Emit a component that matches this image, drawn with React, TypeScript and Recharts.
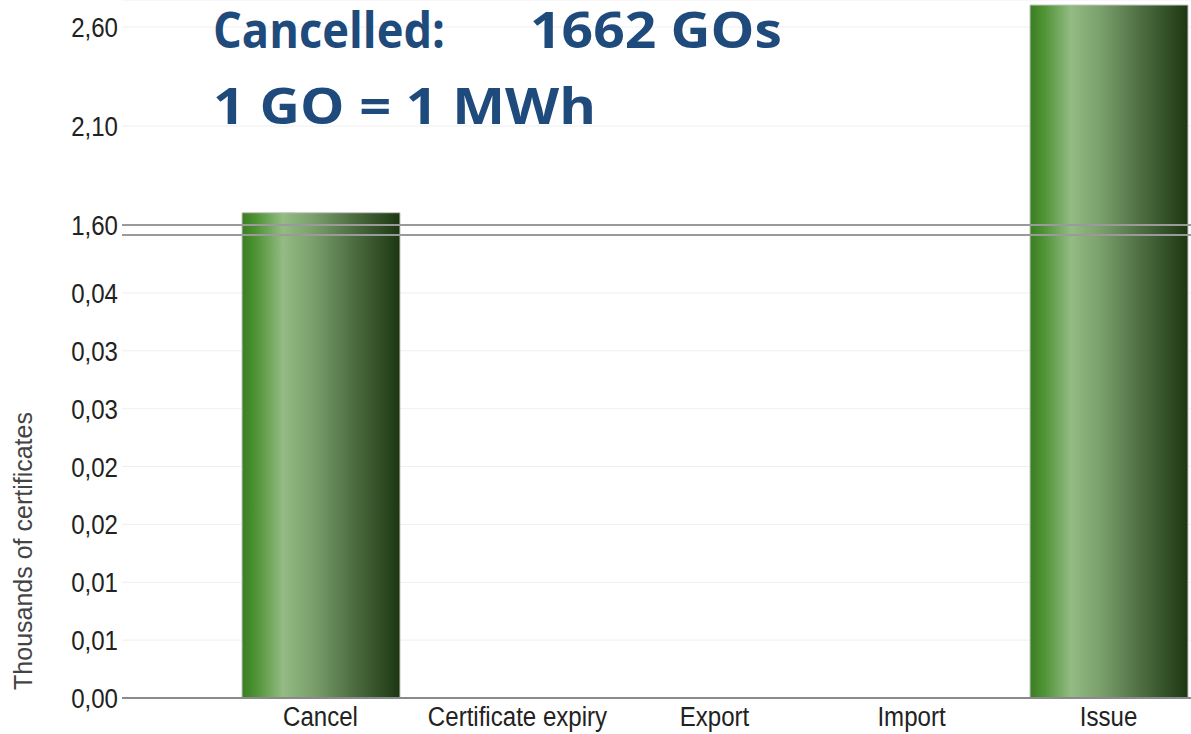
import React from "react";
import { BarChart, Bar, XAxis, YAxis, CartesianGrid, ReferenceLine } from "recharts";

const categories = ["Cancel", "Certificate expiry", "Export", "Import", "Issue"];
const thousandsOfCertificates = [1.662, 0, 0, 0, 2.711];

const lowerTicks = [0, 0.0055, 0.011, 0.0165, 0.022, 0.0275, 0.033, 0.0385];
const upperTicks = [1.6, 2.1, 2.6];
const tickLabels = ["0,00", "0,01", "0,01", "0,02", "0,02", "0,03", "0,03", "0,04", "1,60", "2,10", "2,60"];
const breakLow = 0.044;
const breakHigh = 1.6;

// broken axis: lower part is stretched, upper part starts at the break
const LOWER_SCALE = 10520;
const UPPER_SCALE = 198;
const UPPER_BASE = 473;
const toAxis = (v: number) => (v < 1 ? v * LOWER_SCALE : UPPER_BASE + (v - breakHigh) * UPPER_SCALE);

const data = categories.map((name, i) => ({ name, value: toAxis(thousandsOfCertificates[i]) }));
const tickValues = [...lowerTicks, ...upperTicks].map(toAxis);

const TICK_FONT = "'Liberation Sans', Arial, sans-serif";
const SQUEEZE = 0.86;

function XTick({ x, y, payload }: any) {
  return (
    <g transform={`translate(${x},${y})`}>
      <text transform={`scale(${SQUEEZE},1)`} textAnchor="middle" dy="0.71em" fontSize={28} fill="#222" fontFamily={TICK_FONT}>
        {payload.value}
      </text>
    </g>
  );
}

function YTick({ x, y, index }: any) {
  return (
    <g transform={`translate(${x},${y})`}>
      <text transform={`scale(${SQUEEZE},1)`} textAnchor="end" dy="0.355em" fontSize={28} fill="#222" fontFamily={TICK_FONT}>
        {tickLabels[index]}
      </text>
    </g>
  );
}

const titleText = { fontFamily: "'Open Sans', sans-serif", fontWeight: 700, fontSize: 50, fill: "#1f4a7c", lengthAdjust: "spacingAndGlyphs" as const };

export default function App() {
  return (
    <div style={{ position: "absolute", left: 0, top: 0, width: 1191, height: 734, overflow: "hidden", background: "#fff" }}>
      <BarChart width={1207} height={734} data={data} margin={{ top: 0, right: 0, left: 0, bottom: 0 }}>
        <defs>
          <linearGradient id="barGreen" x1="0" y1="0" x2="1" y2="0">
            <stop offset="0%" stopColor="#3a7e22" />
            <stop offset="8%" stopColor="#4c9132" />
            <stop offset="26%" stopColor="#93bb83" />
            <stop offset="45%" stopColor="#7a9f6b" />
            <stop offset="70%" stopColor="#4e6e42" />
            <stop offset="90%" stopColor="#2d4a22" />
            <stop offset="100%" stopColor="#1c3612" />
          </linearGradient>
        </defs>
        <CartesianGrid vertical={false} stroke="#efefef" />
        <XAxis
          dataKey="name"
          padding={{ left: 100, right: 0 }}
          height={36}
          axisLine={{ stroke: "#8a8a8a", strokeWidth: 2 }}
          tickLine={false}
          tick={<XTick />}
          interval={0}
        />
        <YAxis
          type="number"
          domain={[0, 698]}
          ticks={tickValues}
          interval={0}
          width={122}
          axisLine={false}
          tickLine={false}
          tickSize={4}
          tickMargin={0}
          tick={<YTick />}
          label={{
            content: () => (
              <text
                x={32}
                y={551}
                transform="rotate(-90 32 551)"
                textAnchor="middle"
                fontSize={25}
                fill="#444"
                fontFamily={TICK_FONT}
              >
                Thousands of certificates
              </text>
            ),
          }}
        />
        <Bar dataKey="value" barSize={158} fill="url(#barGreen)" stroke="#c4c4c4" strokeWidth={1} isAnimationActive={false} />
        <ReferenceLine y={toAxis(breakHigh)} stroke="#9a9a9a" strokeWidth={2} />
        <ReferenceLine y={toAxis(breakLow)} stroke="#9a9a9a" strokeWidth={2} />
      </BarChart>
      <svg width={1191} height={140} style={{ position: "absolute", left: 0, top: 0 }}>
        <text x={213} y={48} textLength={232} {...titleText}>Cancelled:</text>
        <text x={530} y={48} textLength={252} {...titleText}>1662 GOs</text>
        <text x={213} y={124} textLength={383} {...titleText}>1 GO = 1 MWh</text>
      </svg>
    </div>
  );
}
